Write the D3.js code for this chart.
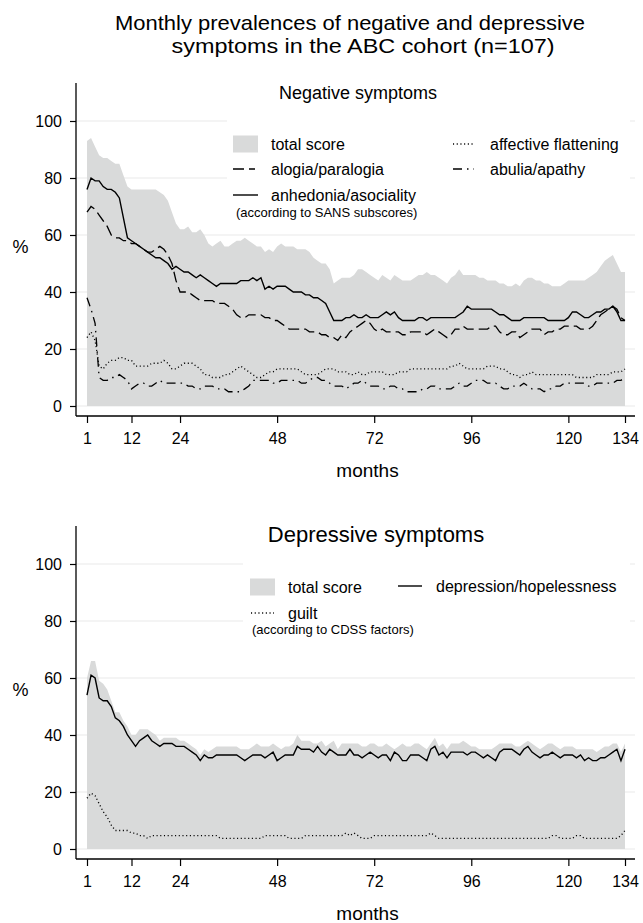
<!DOCTYPE html>
<html><head><meta charset="utf-8">
<script src="https://cdn.jsdelivr.net/npm/d3@7"></script>
<style>
body{margin:0;background:#fff}
text{font-family:"Liberation Sans",Arial,Helvetica,sans-serif;fill:#000}
</style>
</head><body><script>
// ---------- data ----------
const monthTicks = [1, 12, 24, 48, 72, 96, 120, 134];
const pctTicks = [0, 20, 40, 60, 80, 100];

const negTotal = [
 93,94,91,88,87,87,86,85,85,81,
 77,76,76,76,76,76,76,76,75,74,
 72,68,64,62,62,63,61,61,62,60,
 57,56,57,58,56,56,57,58,58,59,
 58,57,56,56,54,55,54,56,57,56,
 56,56,55,55,55,54,52,51,50,50,
 48,43,44,45,45,45,46,48,48,47,
 46,45,44,46,45,44,46,45,44,44,
 44,45,46,46,47,46,46,45,44,43,
 45,46,48,46,46,46,46,45,45,44,
 44,44,43,43,42,42,43,42,44,45,
 45,44,44,43,43,42,42,42,43,44,
 44,44,44,44,45,46,47,49,51,52,
 53,50,47,47];
const anhedonia = [
 76,80,79,79,77,76,76,75,73,66,
 59,58,57,56,55,54,53,52,52,51,
 50,48,49,48,47,47,46,45,46,45,
 44,43,42,43,43,43,43,43,44,44,
 44,45,44,45,41,42,41,42,42,42,
 41,40,40,40,39,39,38,38,37,36,
 33,30,30,30,31,31,32,31,31,32,
 31,31,31,32,33,32,33,31,30,30,
 30,30,31,31,30,31,31,31,31,31,
 31,31,32,33,35,34,34,34,34,34,
 34,33,32,32,31,30,30,30,31,31,
 31,31,31,31,30,30,30,30,30,31,
 33,33,32,31,31,32,33,33,34,34,
 35,33,30,30];
const alogia = [
 68,70,69,67,65,63,60,59,59,58,
 58,57,57,56,55,54,54,55,56,55,
 53,50,44,40,40,40,39,38,37,37,
 37,37,36,36,36,35,34,32,31,31,
 32,32,32,32,31,31,30,30,29,28,
 27,27,27,27,27,26,26,26,25,25,
 24,24,23,25,24,26,27,28,29,30,
 29,27,26,27,26,26,26,26,25,25,
 26,26,26,26,25,26,27,26,25,24,
 25,27,27,28,27,27,27,27,27,27,
 28,28,26,25,25,26,26,24,25,26,
 27,27,27,25,26,26,27,27,28,28,
 28,28,27,27,27,28,30,32,33,34,
 35,34,31,30];
const affective = [
 24,26,23,14,13,15,16,16,17,17,
 16,16,14,14,14,14,15,15,15,16,
 15,13,13,14,15,15,15,14,13,11,
 11,10,10,10,11,11,12,13,14,13,
 12,11,10,10,11,12,12,13,13,13,
 13,13,13,12,11,11,11,11,12,13,
 13,13,12,12,12,11,11,12,11,11,
 12,12,12,12,11,11,11,12,12,12,
 13,13,13,13,13,13,13,13,13,13,
 14,14,15,14,13,13,13,13,13,14,
 14,14,13,13,12,11,11,10,11,11,
 12,11,11,11,11,11,11,11,11,11,
 11,10,10,10,10,10,11,11,11,11,
 12,12,12,13];
const abulia = [
 38,34,29,10,9,9,10,10,11,10,
 9,6,7,8,8,7,7,8,9,8,
 8,8,8,8,8,7,7,6,6,7,
 7,7,6,6,6,5,5,5,5,6,
 7,9,9,9,9,9,8,8,9,9,
 9,9,9,8,8,9,10,10,9,9,
 8,7,7,7,6,7,8,8,9,8,
 7,7,7,6,6,7,7,6,6,5,
 5,5,5,6,6,7,7,6,6,6,
 6,7,8,7,7,8,9,9,9,8,
 8,8,7,6,6,7,7,7,8,7,
 6,6,6,5,6,6,7,7,8,8,
 8,8,8,8,7,7,8,8,8,8,
 8,9,9,10];

const depTotal = [
 60,66,66,59,58,56,52,48,48,45,
 43,40,40,42,42,42,41,40,38,39,
 39,39,39,38,38,37,36,35,33,35,
 34,35,36,36,36,36,36,36,35,35,
 35,36,37,36,36,36,37,36,35,36,
 36,37,40,38,38,38,37,37,38,36,
 37,38,35,37,37,37,37,37,36,36,
 37,37,36,36,37,36,35,36,37,36,
 36,37,37,36,35,37,39,36,37,35,
 37,37,37,38,37,36,36,35,35,35,
 35,36,37,37,37,37,36,36,37,38,
 37,36,35,36,37,37,36,35,36,36,
 36,35,35,35,35,35,34,35,36,36,
 37,37,34,37];
const depression = [
 54,61,60,53,52,52,50,46,45,43,
 40,38,36,38,39,40,38,37,36,37,
 37,37,36,36,36,35,34,33,31,33,
 32,32,33,33,33,33,33,33,32,31,
 32,33,33,33,32,33,34,31,32,33,
 33,33,36,35,35,35,34,36,34,33,
 35,34,33,33,33,35,33,33,32,33,
 34,33,32,33,33,31,34,33,31,31,
 33,33,33,32,31,35,36,33,34,32,
 34,34,34,34,33,34,34,33,32,33,
 32,31,34,35,35,35,34,33,35,36,
 34,33,32,33,33,34,33,32,33,33,
 33,32,33,31,32,31,31,32,32,33,
 34,35,31,35];
const guilt = [
 17.8,19.6,18.7,15.9,13.1,11.2,8.4,6.5,6.5,6.5,
 6.5,5.6,5.6,4.7,4.7,3.7,4.7,4.7,4.7,4.7,
 4.7,4.7,4.7,4.7,4.7,4.7,4.7,4.7,4.7,4.7,
 4.7,4.7,4.7,3.7,3.7,3.7,3.7,3.7,3.7,3.7,
 3.7,3.7,3.7,3.7,4.7,4.7,4.7,4.7,4.7,4.7,
 3.7,3.7,3.7,3.7,4.7,4.7,4.7,4.7,4.7,4.7,
 4.7,4.7,4.7,4.7,5.6,4.7,5.6,4.7,3.7,3.7,
 3.7,4.7,4.7,4.7,4.7,4.7,4.7,4.7,4.7,4.7,
 4.7,4.7,4.7,4.7,4.7,5.6,4.7,3.7,3.7,3.7,
 3.7,3.7,3.7,3.7,3.7,3.7,3.7,3.7,3.7,3.7,
 3.7,3.7,3.7,3.7,3.7,3.7,3.7,3.7,3.7,3.7,
 3.7,3.7,3.7,3.7,3.7,4.7,4.7,3.7,3.7,3.7,
 3.7,4.7,4.7,3.7,3.7,3.7,3.7,3.7,3.7,3.7,
 3.7,3.7,4.7,6.5];

const titleLines = ["Monthly prevalences of negative and depressive", "symptoms in the ABC cohort (n=107)"];

// ---------- drawing ----------
const svg = d3.select("body").append("svg").attr("width", 643).attr("height", 923);
const months = d3.range(1, 135);
const x = d3.scaleLinear().domain([1, 134]).range([87, 625]);
const AX_L = 76, AX_R = 635;
const AREA_FILL = "#d9dada";
const DASH = { solid: null, dash: "11,5", dot: "1.1,2.6", dashdot: "9,5,1.5,5" };

svg.append("text").attr("x", 350).attr("y", 29.5).attr("text-anchor", "middle").attr("font-size", 21)
  .attr("textLength", 470).attr("lengthAdjust", "spacingAndGlyphs").text(titleLines[0]);
svg.append("text").attr("x", 363).attr("y", 53).attr("text-anchor", "middle").attr("font-size", 21)
  .attr("textLength", 383).attr("lengthAdjust", "spacingAndGlyphs").text(titleLines[1]);

function drawPanel(cfg) {
  const z = cfg.zeroY;
  const y = d3.scaleLinear().domain([0, 100]).range([z, z - 285]);
  const g = svg.append("g");

  g.selectAll("line.grid").data(pctTicks).join("line").attr("class", "grid")
    .attr("x1", AX_L).attr("x2", AX_R).attr("y1", d => y(d)).attr("y2", d => y(d))
    .attr("stroke", "#e9e9e9").attr("stroke-width", 1);

  const area = d3.area().x((d, i) => x(months[i])).y0(y(0)).y1(d => y(d));
  g.append("path").datum(cfg.total).attr("d", area).attr("fill", AREA_FILL);

  const line = d3.line().x((d, i) => x(months[i])).y(d => y(d));
  cfg.series.forEach(s => {
    g.append("path").datum(s.values).attr("d", line).attr("fill", "none")
      .attr("stroke", "#000").attr("stroke-width", s.style === "solid" ? 1.4 : 1.3)
      .attr("stroke-dasharray", DASH[s.style]);
  });

  // legend box
  const L = cfg.legend;
  g.append("rect").attr("x", L.box[0]).attr("y", L.box[1]).attr("width", L.box[2]).attr("height", L.box[3]).attr("fill", "#fff");
  L.items.forEach(it => {
    if (it.style === "area") {
      g.append("rect").attr("x", it.sx).attr("y", it.y - 8.5).attr("width", 25).attr("height", 17).attr("fill", AREA_FILL);
    } else {
      g.append("line").attr("x1", it.sx).attr("x2", it.sx + (it.len || 25)).attr("y1", it.y).attr("y2", it.y)
        .attr("stroke", "#000").attr("stroke-width", it.style === "solid" ? 1.4 : 1.3)
        .attr("stroke-dasharray", DASH[it.style]);
    }
    g.append("text").attr("x", it.tx).attr("y", it.y).attr("dy", "0.36em").attr("font-size", 16).text(it.label);
  });
  g.append("text").attr("x", L.note[0]).attr("y", L.note[1]).attr("dy", "0.36em").attr("font-size", 13).text(L.note[2]);

  // panel title
  g.append("text").attr("x", cfg.title[0]).attr("y", cfg.title[1]).attr("text-anchor", "middle")
    .attr("font-size", cfg.title[3]).text(cfg.title[2]);

  // y axis
  const ya = g.append("g").attr("transform", `translate(${AX_L},0)`)
    .call(d3.axisLeft(y).tickValues(pctTicks).tickSize(6).tickPadding(8));
  ya.attr("font-family", null).attr("font-size", 16);
  ya.select(".domain").remove();
  ya.selectAll(".tick line").attr("stroke-width", 1.2);
  g.append("line").attr("x1", AX_L).attr("x2", AX_L).attr("y1", z - 323).attr("y2", z + 10)
    .attr("stroke", "#000").attr("stroke-width", 1.3);

  // x axis
  const xa = g.append("g").attr("transform", `translate(0,${z + 10})`)
    .call(d3.axisBottom(x).tickValues(monthTicks).tickSize(7).tickPadding(10));
  xa.attr("font-family", null).attr("font-size", 16);
  xa.select(".domain").remove();
  xa.selectAll(".tick line").attr("stroke-width", 1.2);
  g.append("line").attr("x1", AX_L).attr("x2", AX_R).attr("y1", z + 10).attr("y2", z + 10)
    .attr("stroke", "#000").attr("stroke-width", 1.3);

  // axis titles
  g.append("text").attr("x", 20.5).attr("y", y(56)).attr("dy", "0.36em").attr("text-anchor", "middle").attr("font-size", 18).text("%");
  g.append("text").attr("x", 367.5).attr("y", z + 71).attr("text-anchor", "middle").attr("font-size", 19).text("months");
}

drawPanel({
  zeroY: 406,
  total: negTotal,
  series: [
    { values: affective, style: "dot" },
    { values: abulia, style: "dashdot" },
    { values: alogia, style: "dash" },
    { values: anhedonia, style: "solid" }
  ],
  title: [358, 99, "Negative symptoms", 18],
  legend: {
    box: [227, 104, 403, 122],
    items: [
      { style: "area", sx: 233, tx: 271, y: 144, label: "total score" },
      { style: "dash", sx: 233, tx: 271, y: 169, label: "alogia/paralogia", len: 22 },
      { style: "solid", sx: 233, tx: 271, y: 195, label: "anhedonia/asociality" },
      { style: "dot", sx: 453, tx: 490, y: 144, label: "affective flattening", len: 22 },
      { style: "dashdot", sx: 453, tx: 490, y: 169, label: "abulia/apathy", len: 21 }
    ],
    note: [236, 212, "(according to SANS subscores)"]
  }
});

drawPanel({
  zeroY: 849,
  total: depTotal,
  series: [
    { values: guilt, style: "dot" },
    { values: depression, style: "solid" }
  ],
  title: [376, 542, "Depressive symptoms", 22],
  legend: {
    box: [243, 550, 387, 118],
    items: [
      { style: "area", sx: 250, tx: 288, y: 587, label: "total score" },
      { style: "dot", sx: 251, tx: 288, y: 613, label: "guilt", len: 23 },
      { style: "solid", sx: 398, tx: 436, y: 586, label: "depression/hopelessness", len: 24 }
    ],
    note: [252, 629, "(according to CDSS factors)"]
  }
});
</script></body></html>
